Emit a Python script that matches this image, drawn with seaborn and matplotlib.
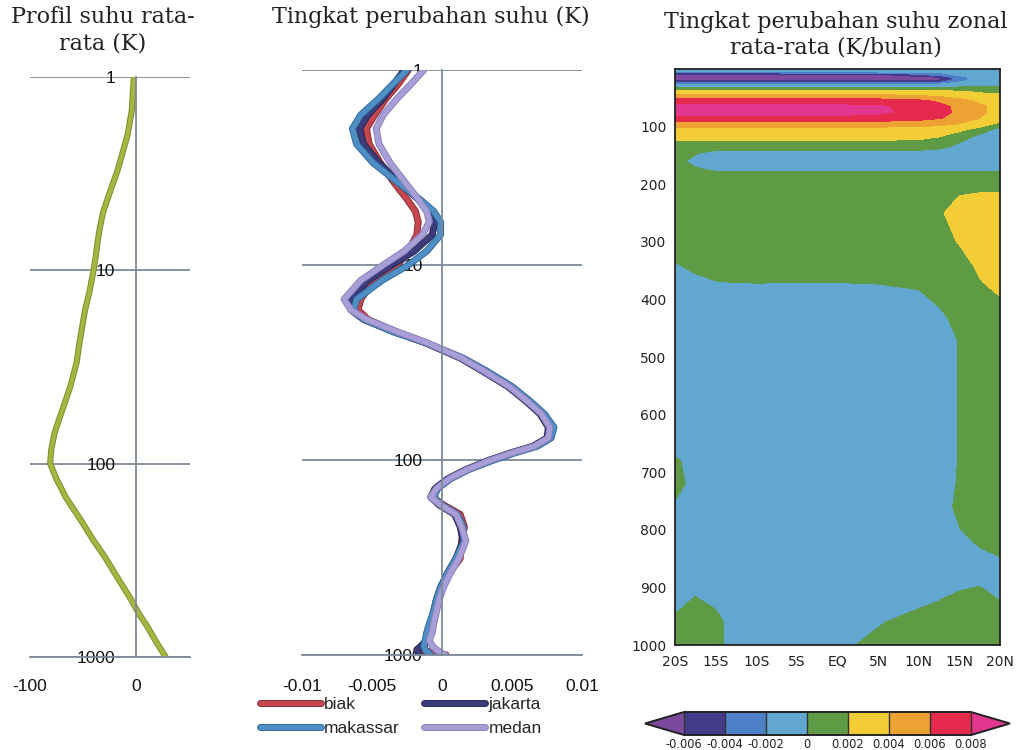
import numpy as np
import pandas as pd
import matplotlib
matplotlib.use("Agg")
import matplotlib.pyplot as plt
import matplotlib.patheffects as pe
from matplotlib.ticker import NullLocator
import seaborn as sns

# ---------------- data ----------------
# Panel 1: mean temperature profile (K) vs pressure level
p_profil = [1, 1.5, 2, 3, 4, 5, 6, 7, 8.5, 10, 13, 16, 20, 25, 30, 40, 50, 60, 70, 85, 100,
            120, 150, 200, 250, 300, 400, 500, 600, 700, 850, 1000]
suhu_profil = [-2, -4, -8, -17, -25, -31, -34, -36, -38, -40, -44, -48, -51, -54, -56, -62, -68,
               -73, -77, -80, -81, -75, -66, -51, -40, -30, -16, -5, 3, 11, 20, 28]

# Panel 2: temperature change rate (K) per city vs pressure level
p_kota = [1, 1.2, 1.4, 1.7, 2, 2.4, 3, 3.8, 4.6, 5.3, 6, 7, 8.5, 10, 12, 15, 17, 19, 22, 25,
          30, 35, 42, 50, 58, 68, 77, 85, 92, 100, 112, 125, 140, 155, 170, 190, 220, 260, 320,
          380, 450, 520, 600, 690, 770, 840, 900, 940, 1000]
biak = [-0.0024, -0.0032, -0.0040, -0.0048, -0.0054, -0.0052, -0.0044, -0.0034, -0.0025, -0.0019,
        -0.0017, -0.0018, -0.0024, -0.0032, -0.0049, -0.0058, -0.0060, -0.0053, -0.0033, -0.0012,
        0.0014, 0.0030, 0.0048, 0.0061, 0.0071, 0.0077, 0.0076, 0.0066, 0.0050, 0.0035,
        0.0018, 0.0005, -0.0004, -0.0007, 0.0001, 0.0013, 0.0016, 0.0014, 0.0013, 0.0005,
        0.0000, -0.0003, -0.0005, -0.0006, -0.0008, -0.0010, -0.0013, -0.0016, 0.0003]
jakarta = [-0.0027, -0.0035, -0.0042, -0.0053, -0.0059, -0.0056, -0.0045, -0.0030, -0.0017, -0.0009,
           -0.0005, -0.0007, -0.0020, -0.0036, -0.0053, -0.0066, -0.0065, -0.0056, -0.0034, -0.0012,
           0.0013, 0.0029, 0.0047, 0.0060, 0.0070, 0.0076, 0.0075, 0.0065, 0.0049, 0.0034,
           0.0017, 0.0004, -0.0005, -0.0008, -0.0002, 0.0009, 0.0013, 0.0015, 0.0010, 0.0004,
           -0.0001, -0.0004, -0.0006, -0.0008, -0.0009, -0.0011, -0.0015, -0.0018, -0.0016]
makassar = [-0.0025, -0.0036, -0.0045, -0.0058, -0.0064, -0.0061, -0.0049, -0.0031, -0.0016, -0.0006,
            -0.0001, -0.0001, -0.0011, -0.0024, -0.0043, -0.0061, -0.0063, -0.0056, -0.0035, -0.0012,
            0.0015, 0.0032, 0.0050, 0.0063, 0.0073, 0.0080, 0.0078, 0.0068, 0.0052, 0.0037,
            0.0019, 0.0006, -0.0003, -0.0006, 0.0000, 0.0011, 0.0015, 0.0016, 0.0010, 0.0004,
            -0.0001, -0.0004, -0.0006, -0.0009, -0.0011, -0.0012, -0.0013, -0.0012, -0.0008]
medan = [-0.0013, -0.0023, -0.0032, -0.0042, -0.0047, -0.0045, -0.0037, -0.0026, -0.0017, -0.0011,
         -0.0009, -0.0014, -0.0027, -0.0042, -0.0058, -0.0070, -0.0065, -0.0054, -0.0032, -0.0011,
         0.0014, 0.0030, 0.0048, 0.0061, 0.0071, 0.0077, 0.0076, 0.0066, 0.0050, 0.0035,
         0.0018, 0.0005, -0.0004, -0.0008, -0.0001, 0.0010, 0.0014, 0.0017, 0.0012, 0.0006,
         0.0001, -0.0002, -0.0004, -0.0006, -0.0007, -0.0009, -0.0007, -0.0004, 0.0002]
kota = ["biak", "jakarta", "makassar", "medan"]
warna_kota = {"biak": "#c4474f", "jakarta": "#3c3c7c", "makassar": "#4f8fc6", "medan": "#a89fd8"}
tepi_kota = {"biak": "#8e2a32", "jakarta": "#262652", "makassar": "#2f6a9c", "medan": "#8a80bc"}

# Panel 3: zonal-mean temperature change rate (1e-3 K/bulan), rows = pressure, cols = latitude
lintang = [-20, -17.5, -15, -12.5, -10, -5, 0, 5, 10, 12.5, 15, 17.5, 20]
label_lintang = ["20S", "15S", "10S", "5S", "EQ", "5N", "10N", "15N", "20N"]
tick_lintang = [-20, -15, -10, -5, 0, 5, 10, 15, 20]
tekanan = [0, 5, 10, 15, 20, 27, 33, 40, 47, 55, 65, 75, 85, 95, 105, 115, 125, 135, 145, 160, 175,
           190, 215, 250, 300, 340, 370, 400, 430, 470, 520, 600, 650, 680, 720, 760, 800, 840, 880,
           920, 960, 1000]
laju_zonal = [
    [-1.0, -1.0, -1.0, -1.0, -1.0, -1.0, -1.0, -1.0, -1.0, -1.0, -1.0, -1.0, -1.0],   # 0
    [-1.8, -1.8, -1.8, -1.8, -1.8, -1.8, -1.8, -1.8, -1.8, -1.6, -1.2, -1.0, -1.0],   # 5
    [-7.5, -7.5, -7.5, -7.5, -7.5, -7.4, -7.2, -6.5, -4.5, -3.0, -1.5, -1.1, -1.0],   # 10
    [-7.6, -7.6, -7.6, -7.6, -7.6, -7.5, -7.5, -7.3, -7.0, -6.6, -3.0, -1.2, -1.0],   # 15
    [-6.4, -6.4, -6.4, -6.4, -6.4, -6.4, -6.4, -6.4, -6.3, -6.0, -2.5, -1.1, -1.0],   # 20
    [-1.5, -1.5, -1.5, -1.5, -1.5, -1.5, -1.5, -1.5, -1.5, -1.5, -1.2, -1.0, -1.0],   # 27
    [0.5, 0.5, 0.5, 0.5, 0.5, 0.5, 0.5, 0.5, 0.5, 0.5, 0.5, 0.5, 0.5],                # 33
    [3.0, 3.0, 3.0, 3.0, 3.0, 3.0, 3.0, 3.0, 3.0, 2.8, 2.4, 1.8, 1.5],                # 40
    [4.5, 4.5, 4.5, 4.5, 4.5, 4.5, 4.5, 4.5, 4.2, 3.8, 3.2, 2.8, 2.5],                # 47
    [7.0, 7.0, 7.0, 7.0, 7.0, 7.0, 7.0, 6.9, 6.4, 5.6, 4.6, 3.6, 3.0],                # 55
    [8.4, 8.5, 8.5, 8.5, 8.5, 8.5, 8.4, 8.2, 7.4, 6.7, 5.4, 4.3, 3.4],                # 65
    [8.5, 8.6, 8.6, 8.6, 8.6, 8.6, 8.5, 8.3, 7.5, 6.8, 5.5, 4.3, 3.4],                # 75
    [7.6, 7.6, 7.6, 7.6, 7.6, 7.6, 7.6, 7.4, 6.8, 6.2, 5.1, 4.0, 3.0],                # 85
    [5.0, 5.0, 5.0, 5.0, 5.0, 5.0, 5.0, 5.0, 4.8, 4.5, 4.0, 3.2, 1.5],                # 95
    [3.3, 3.3, 3.3, 3.3, 3.3, 3.3, 3.3, 3.3, 3.2, 3.0, 2.5, 1.2, -0.8],               # 105
    [2.8, 2.8, 2.8, 2.8, 2.8, 2.8, 2.8, 2.8, 2.6, 2.3, 1.2, -0.3, -1.0],              # 115
    [1.9, 1.9, 1.9, 1.9, 1.9, 1.9, 1.9, 1.9, 1.8, 1.3, 0.2, -0.8, -1.2],              # 125
    [1.0, 1.0, 1.0, 1.0, 1.0, 1.0, 1.0, 1.0, 0.9, 0.5, -0.5, -1.0, -1.2],             # 135
    [0.8, 0.2, -0.5, -0.5, -0.5, -0.5, -0.5, -0.5, -0.6, -0.8, -1.0, -1.1, -1.2],     # 145
    [0.5, -0.5, -1.0, -1.0, -1.0, -1.0, -1.0, -1.0, -1.0, -1.1, -1.1, -1.1, -1.1],    # 160
    [0.8, 0.2, -0.2, -0.2, -0.2, -0.2, -0.2, -0.2, -0.2, -0.2, -0.3, -0.3, -0.3],     # 175
    [1.0, 1.0, 1.0, 1.0, 1.0, 1.0, 1.0, 1.0, 1.0, 1.0, 1.0, 1.0, 1.0],                # 190
    [1.0, 1.0, 1.0, 1.0, 1.0, 1.0, 1.0, 1.0, 1.0, 1.3, 1.9, 2.0, 2.0],                # 215
    [1.0, 1.0, 1.0, 1.0, 1.0, 1.0, 1.0, 1.0, 1.2, 1.8, 2.6, 3.0, 3.0],                # 250
    [1.0, 1.0, 1.0, 1.0, 1.0, 1.0, 1.0, 1.0, 1.1, 1.4, 2.1, 3.0, 3.0],                # 300
    [-0.1, 0.3, 0.6, 0.7, 0.7, 0.7, 0.7, 0.7, 0.7, 1.0, 1.4, 2.3, 2.8],               # 340
    [-0.6, -0.3, -0.05, 0.02, 0.05, 0.02, 0.02, 0.1, 0.3, 0.7, 1.2, 1.9, 2.5],        # 370
    [-0.8, -0.8, -0.8, -0.8, -0.8, -0.8, -0.8, -0.8, -0.4, 0.3, 1.0, 1.4, 1.9],       # 400
    [-1.0, -1.0, -1.0, -1.0, -1.0, -1.0, -1.0, -1.0, -1.0, -0.4, 0.6, 1.0, 1.0],      # 430
    [-1.0, -1.0, -1.0, -1.0, -1.0, -1.0, -1.0, -1.0, -1.0, -1.0, 0.1, 1.0, 1.0],      # 470
    [-1.0, -1.0, -1.0, -1.0, -1.0, -1.0, -1.0, -1.0, -1.0, -1.0, 0.1, 1.0, 1.0],      # 520
    [-1.0, -1.0, -1.0, -1.0, -1.0, -1.0, -1.0, -1.0, -1.0, -1.0, 0.1, 1.0, 1.0],      # 600
    [-1.0, -1.0, -1.0, -1.0, -1.0, -1.0, -1.0, -1.0, -1.0, -1.0, 0.1, 1.0, 1.0],      # 650
    [0.3, -0.8, -1.0, -1.0, -1.0, -1.0, -1.0, -1.0, -1.0, -1.0, 0.1, 1.0, 1.0],       # 680
    [0.8, -0.8, -1.0, -1.0, -1.0, -1.0, -1.0, -1.0, -1.0, -1.0, 0.2, 1.0, 1.0],       # 720
    [-0.3, -1.0, -1.0, -1.0, -1.0, -1.0, -1.0, -1.0, -1.0, -1.0, 0.5, 1.0, 1.0],      # 760
    [-1.0, -1.0, -1.0, -1.0, -1.0, -1.0, -1.0, -1.0, -1.0, -1.0, -0.1, 1.0, 1.0],     # 800
    [-1.0, -1.0, -1.0, -1.0, -1.0, -1.0, -1.0, -1.0, -1.0, -1.0, -1.0, -0.3, 0.2],    # 840
    [-1.0, -0.8, -1.0, -1.0, -1.0, -1.0, -1.0, -1.0, -1.0, -1.0, -1.0, -0.5, -1.0],   # 880
    [-0.6, 0.1, -0.5, -1.0, -1.0, -1.0, -1.0, -1.0, -0.6, -0.1, 0.5, 0.6, -0.1],      # 920
    [0.3, 1.0, 0.6, -1.0, -1.0, -1.0, -1.0, -0.2, 0.8, 1.0, 1.0, 1.0, 1.0],           # 960
    [0.8, 1.0, 0.6, -1.0, -1.0, -1.0, -0.5, 0.6, 1.0, 1.0, 1.0, 1.0, 1.0],            # 1000
]
level_kontur = [-0.006, -0.004, -0.002, 0, 0.002, 0.004, 0.006, 0.008]
label_kontur = ["-0.006", "-0.004", "-0.002", "0", "0.002", "0.004", "0.006", "0.008"]
warna_kontur = ["#7b4a9e", "#433a8a", "#4d80c6", "#62a7cf", "#5f9b45", "#f3cd36",
                "#eea234", "#e62a4e", "#e2368f"]

# ---------------- figure ----------------
sns.set_theme(style="white")
plt.rcParams["font.family"] = ["Liberation Sans", "DejaVu Sans"]

W, H = 1016, 750
fig = plt.figure(figsize=(W / 100, H / 100), dpi=100)


def rect(x0, y0, x1, y1):
    return [x0 / W, 1 - y1 / H, (x1 - x0) / W, (y1 - y0) / H]


GRID = "#7d8b98"
serif = ["DejaVu Serif"]


def style_profile(ax, xticks, xlabels, ypad, xpad):
    ax.set_yscale("log")
    ax.set_ylim(1000, 1)
    ax.set_yticks([1, 10, 100, 1000])
    ax.set_yticklabels(["1", "10", "100", "1000"])
    ax.yaxis.set_minor_locator(NullLocator())
    ax.set_xticks(xticks)
    ax.set_xticklabels(xlabels)
    ax.spines["left"].set_position(("data", 0))
    for s in ["top", "right"]:
        ax.spines[s].set_visible(False)
    for s in ["left", "bottom"]:
        ax.spines[s].set_color(GRID)
        ax.spines[s].set_linewidth(1.3)
    ax.grid(False)
    ax.yaxis.grid(True, color=GRID, linewidth=1.3)
    ax.set_axisbelow(True)
    ax.tick_params(axis="y", length=0, pad=ypad, labelsize=12.5, labelcolor="#111111")
    ax.tick_params(axis="x", direction="in", length=6, width=1.2, color=GRID,
                   labelsize=12.5, pad=xpad, labelcolor="#111111")
    ax.set_xlabel("")
    ax.set_ylabel("")
    ax.set_facecolor("none")


# ---- Panel 1 ----
ax1 = fig.add_axes(rect(30, 77, 190, 657))
df1 = pd.DataFrame({"p": p_profil, "suhu": suhu_profil})
sns.lineplot(data=df1, x="suhu", y="p", sort=False, estimator=None, ax=ax1,
             color="#a4b541", linewidth=3.0)
ax1.lines[0].set_path_effects([pe.Stroke(linewidth=4.4, foreground="#7f8c2c"), pe.Normal()])
ax1.lines[0].set_solid_joinstyle("round")
style_profile(ax1, [-100, 0], ["-100", "0"], ypad=15, xpad=16)
ax1.set_xlim(-100, 51)

# ---- Panel 2 ----
ax2 = fig.add_axes(rect(302, 70, 582, 655))
rows = []
for nama, vals in zip(kota, [biak, jakarta, makassar, medan]):
    for p, v in zip(p_kota, vals):
        rows.append({"kota": nama, "p": p, "laju": v})
df2 = pd.DataFrame(rows)
sns.lineplot(data=df2, x="laju", y="p", hue="kota", hue_order=kota, palette=warna_kota,
             sort=False, estimator=None, ax=ax2, linewidth=3.6, legend=False)
for line, nama in zip(ax2.lines, kota):
    line.set_path_effects([pe.Stroke(linewidth=5.0, foreground=tepi_kota[nama]), pe.Normal()])
    line.set_label(nama)
    line.set_solid_capstyle("round")
    line.set_solid_joinstyle("round")
style_profile(ax2, [-0.01, -0.005, 0, 0.005, 0.01],
              ["-0.01", "-0.005", "0", "0.005", "0.01"], ypad=14, xpad=17)
ax2.set_xlim(-0.01, 0.01)
hmap = {l.get_label(): l for l in ax2.lines}
handles = [hmap["biak"], hmap["makassar"], hmap["jakarta"], hmap["medan"]]
fig.legend(handles=handles, labels=["biak", "makassar", "jakarta", "medan"], ncol=2,
           loc="upper left", bbox_to_anchor=(260 / W, 1 - 697 / H), frameon=False,
           fontsize=12.5, handlelength=3.5, handletextpad=0.2, columnspacing=1.4,
           labelspacing=0.5, borderpad=0, borderaxespad=0)

# ---- Panel 3 ----
ax3 = fig.add_axes(rect(675, 69, 1000, 645))
Z = np.array(laju_zonal) * 1e-3
cs = ax3.contourf(lintang, tekanan, Z, levels=level_kontur, colors=warna_kontur, extend="both")
ax3.set_ylim(1000, 0)
ax3.set_xlim(-20, 20)
ax3.set_xticks(tick_lintang)
ax3.set_xticklabels(label_lintang)
ax3.set_yticks([100, 200, 300, 400, 500, 600, 700, 800, 900, 1000])
ax3.set_yticklabels(["100", "200", "300", "400", "500", "600", "700", "800", "900", "1000"])
for lab in ax3.get_xticklabels() + ax3.get_yticklabels():
    lab.set_family(["DejaVu Sans"])
ax3.tick_params(axis="both", direction="out", length=4, width=1, color="#222222",
                labelsize=10, pad=2, labelcolor="#222222")
ax3.tick_params(axis="x", labelsize=10, pad=3)
for s in ax3.spines.values():
    s.set_color("#222222")
    s.set_linewidth(1.3)
ax3.grid(False)

cax = fig.add_axes(rect(645, 712, 1010, 735))
cb = fig.colorbar(cs, cax=cax, orientation="horizontal", extendfrac=0.136,
                  ticks=level_kontur, drawedges=True)
cb.set_ticklabels(label_kontur)
cb.outline.set_linewidth(1.4)
cb.outline.set_edgecolor("#222222")
cb.dividers.set_color("#333333")
cb.dividers.set_linewidth(1.0)
cax.tick_params(length=0, pad=2, labelsize=8.3, labelcolor="#222222")
for lab in cax.get_xticklabels():
    lab.set_family(["DejaVu Sans"])

# ---- Titles ----
fig.text(103 / W, 1 - 6 / H, "Profil suhu rata-\nrata (K)", ha="center", va="top",
         family=serif, fontsize=16, linespacing=1.28, color="#222222")
fig.text(431 / W, 1 - 6 / H, "Tingkat perubahan suhu (K)", ha="center", va="top",
         family=serif, fontsize=16, color="#222222")
fig.text(836 / W, 1 - 11 / H, "Tingkat perubahan suhu zonal\nrata-rata (K/bulan)", ha="center",
         va="top", family=serif, fontsize=16, linespacing=1.18, color="#222222")

fig.savefig("out.png", dpi=100, facecolor="white")
